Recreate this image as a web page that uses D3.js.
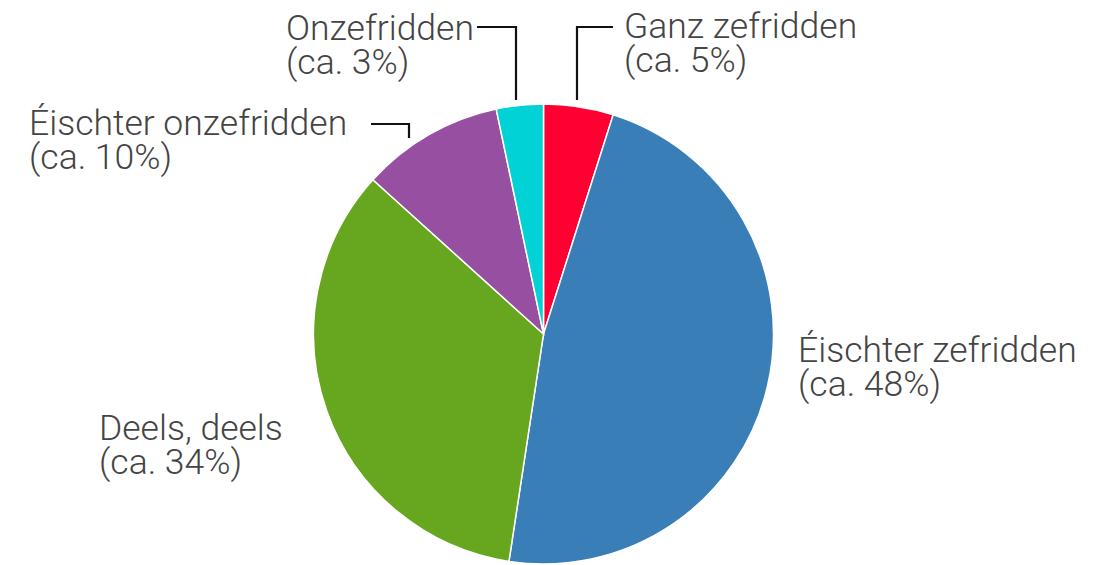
<!DOCTYPE html>
<html>
<head>
<meta charset="utf-8">
<script src="https://cdn.jsdelivr.net/npm/d3@7"></script>
<style>
  body { margin: 0; background: #fff; }
  svg text { font-family: "Roboto", "Liberation Sans", sans-serif; font-weight: 300; font-size: 35.5px; fill: #444; }
</style>
</head>
<body>
<svg id="chart" width="1106" height="565"></svg>
<script>
/* data */
var categories = ["Ganz zefridden", "Éischter zefridden", "Deels, deels", "Éischter onzefridden", "Onzefridden"];
var values = [4.9, 47.5, 34.3, 10.0, 3.3];
var shareLabels = ["(ca. 5%)", "(ca. 48%)", "(ca. 34%)", "(ca. 10%)", "(ca. 3%)"];
var colors = ["#ff0033", "#3a7eb8", "#67a61f", "#964fa1", "#00d2d6"];

/* label placement: text x/baseline, and leader elbow (null = no leader) */
var labelLayout = [
  {x: 624, y: 38, leader: {x1: 577, y: 27, x2: 613, yEnd: 100, elbow: 577}},
  {x: 798, y: 362, leader: null},
  {x: 99, y: 440, leader: null},
  {x: 29, y: 135, leader: {x1: 371, y: 124, x2: 409, yEnd: 138, elbow: 409}},
  {x: 286, y: 40, leader: {x1: 477, y: 27, x2: 516, yEnd: 100, elbow: 516}}
];

var svg = d3.select("#chart"),
    cx = 543.5,
    cy = 334,
    radius = 230;

var pie = d3.pie().sort(null).value(function(d) { return d; });
var arc = d3.arc().innerRadius(0).outerRadius(radius);

var g = svg.append("g").attr("transform", "translate(" + cx + "," + cy + ")");

g.selectAll("path")
  .data(pie(values))
  .enter().append("path")
  .attr("d", arc)
  .attr("fill", function(d, i) { return colors[i]; })
  .attr("stroke", "#fff")
  .attr("stroke-width", 1.5);

//leader lines
labelLayout.forEach(function(l) {
  if (!l.leader) return;
  var p = l.leader;
  var pts = (p.elbow === p.x1)
    ? [[p.x2, p.y], [p.x1, p.y], [p.x1, p.yEnd]]
    : [[p.x1, p.y], [p.x2, p.y], [p.x2, p.yEnd]];
  svg.append("path")
    .attr("d", d3.line()(pts))
    .attr("fill", "none")
    .attr("stroke", "#111")
    .attr("stroke-width", 2.2);
});

//labels, one text per line
categories.forEach(function(c, i) {
  var l = labelLayout[i];
  svg.append("text").attr("x", l.x).attr("y", l.y).text(c);
  svg.append("text").attr("x", l.x).attr("y", l.y + 34).text(shareLabels[i]);
});
</script>
</body>
</html>
